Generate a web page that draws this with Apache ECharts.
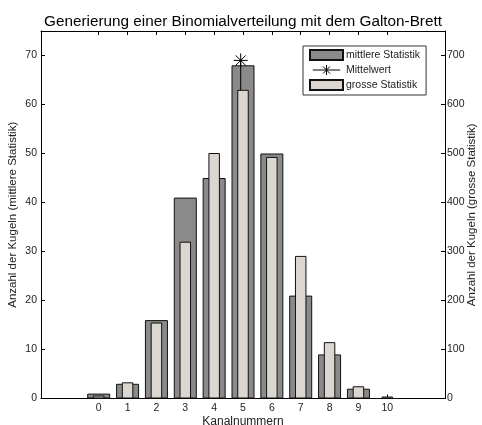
<!DOCTYPE html>
<html>
<head>
<meta charset="utf-8">
<script src="https://cdn.jsdelivr.net/npm/echarts@6/dist/echarts.min.js"></script>
<style>html,body{margin:0;padding:0;background:#fff}#c{width:482px;height:425px}</style>
</head>
<body>
<div id="c"></div>
<script>
// ---- data ----
const channels = [0, 1, 2, 3, 4, 5, 6, 7, 8, 9, 10];
const mittlereStatistik = [1, 3, 16, 41, 45, 68, 50, 21, 9, 2, 0];
const grosseStatistik = [6, 33, 155, 320, 501, 630, 493, 291, 115, 25, 4];
const mittelwertX = 4.92;
const mittelwertY = 69;
const leftTicks = [0, 10, 20, 30, 40, 50, 60, 70];
const rightTicks = [0, 100, 200, 300, 400, 500, 600, 700];
const titleText = 'Generierung einer Binomialverteilung mit dem Galton-Brett';
const xName = 'Kanalnummern';
const yNameLeft = 'Anzahl der Kugeln (mittlere Statistik)';
const yNameRight = 'Anzahl der Kugeln (grosse Statistik)';
const seriesNames = ['mittlere Statistik', 'Mittelwert', 'grosse Statistik'];

// ---- chart ----
const FONT = '"Liberation Sans", Arial, sans-serif';
const TXT = '#222';
const starPath = 'path://M0,-6L0,6M-6,0L6,0M-4.3,-4.3L4.3,4.3M-4.3,4.3L4.3,-4.3';
const legendLineStar = 'path://M0,6L33,6M16.5,0L16.5,12M12.3,1.8L20.7,10.2M12.3,10.2L20.7,1.8';
const chart = echarts.init(document.getElementById('c'), null, {renderer: 'canvas'});

const yCommon = {
  type: 'value', nameLocation: 'middle', nameRotate: 90, nameMoveOverlap: false,
  nameTextStyle: {fontFamily: FONT, fontSize: 11.5, color: TXT},
  axisLine: {show: true, onZero: false, lineStyle: {color: '#000', width: 1}},
  axisTick: {show: true, inside: true, length: 4, lineStyle: {color: '#000'}},
  axisLabel: {fontFamily: FONT, fontSize: 10.5, color: TXT},
  splitLine: {show: false}
};
const xCommon = {
  type: 'value', min: -2, max: 12, interval: 1,
  axisLine: {show: true, onZero: false, lineStyle: {color: '#000', width: 1}},
  axisTick: {show: true, inside: true, length: 4, customValues: channels, lineStyle: {color: '#000'}},
  splitLine: {show: false}
};

chart.setOption({
  backgroundColor: '#fff',
  animation: false,
  title: {
    text: titleText, left: 238, top: 9, textAlign: 'center',
    textStyle: {fontFamily: FONT, fontSize: 15.3, fontWeight: 'normal', color: '#000'}
  },
  legend: {
    orient: 'vertical', left: 303, top: 46,
    padding: [3, 6, 4, 6], itemGap: 3.5, itemWidth: 33, itemHeight: 10,
    backgroundColor: '#fff', borderColor: '#333', borderWidth: 1,
    textStyle: {fontFamily: FONT, fontSize: 10.5, color: TXT, padding: [0, 0, 0, -2]},
    data: [
      {name: seriesNames[0], icon: 'rect'},
      {name: seriesNames[1], icon: legendLineStar,
       itemStyle: {color: 'rgba(0,0,0,0)', borderColor: '#000', borderWidth: 1}},
      {name: seriesNames[2], icon: 'rect'}
    ]
  },
  grid: {left: 41, right: 37, top: 31, bottom: 26.5, containLabel: false, outerBoundsMode: 'none'},
  xAxis: [
    Object.assign({}, xCommon, {
      position: 'bottom', name: xName, nameLocation: 'middle', nameGap: 17, nameMoveOverlap: false,
      nameTextStyle: {fontFamily: FONT, fontSize: 12, color: TXT, verticalAlign: 'top'},
      axisLabel: {fontFamily: FONT, fontSize: 10.5, color: TXT, margin: 4, customValues: channels}
    }),
    Object.assign({}, xCommon, {
      position: 'top', axisLabel: {show: false}
    })
  ],
  yAxis: [
    Object.assign({}, yCommon, {
      position: 'left', min: 0, max: 75, interval: 10, name: yNameLeft, nameGap: 22,
      axisTick: Object.assign({}, yCommon.axisTick, {customValues: leftTicks}),
      axisLabel: Object.assign({}, yCommon.axisLabel, {margin: 4, customValues: leftTicks})
    }),
    Object.assign({}, yCommon, {
      position: 'right', min: 0, max: 750, interval: 100, name: yNameRight, nameGap: 21,
      axisTick: Object.assign({}, yCommon.axisTick, {customValues: rightTicks}),
      axisLabel: Object.assign({}, yCommon.axisLabel, {margin: 2, customValues: rightTicks})
    })
  ],
  series: [
    {
      name: seriesNames[0], type: 'bar', xAxisIndex: 0, yAxisIndex: 0, z: 2,
      barWidth: 23,
      itemStyle: {color: '#8a8a8a', borderColor: '#111', borderWidth: 1},
      data: channels.map((c, i) => [c, mittlereStatistik[i]])
    },
    {
      name: seriesNames[1], type: 'line', xAxisIndex: 0, yAxisIndex: 0, z: 3,
      symbol: starPath, symbolSize: 14,
      lineStyle: {color: '#000', width: 1},
      itemStyle: {color: 'rgba(0,0,0,0)', borderColor: '#000', borderWidth: 1},
      data: [
        {value: [mittelwertX, 0], symbol: 'none'},
        {value: [mittelwertX, mittelwertY]}
      ]
    },
    {
      name: seriesNames[2], type: 'bar', xAxisIndex: 1, yAxisIndex: 1, z: 4,
      barWidth: 11.5,
      itemStyle: {color: '#dbd7d0', borderColor: '#111', borderWidth: 1},
      data: channels.map((c, i) => [c, grosseStatistik[i]])
    }
  ]
});
</script>
</body>
</html>
